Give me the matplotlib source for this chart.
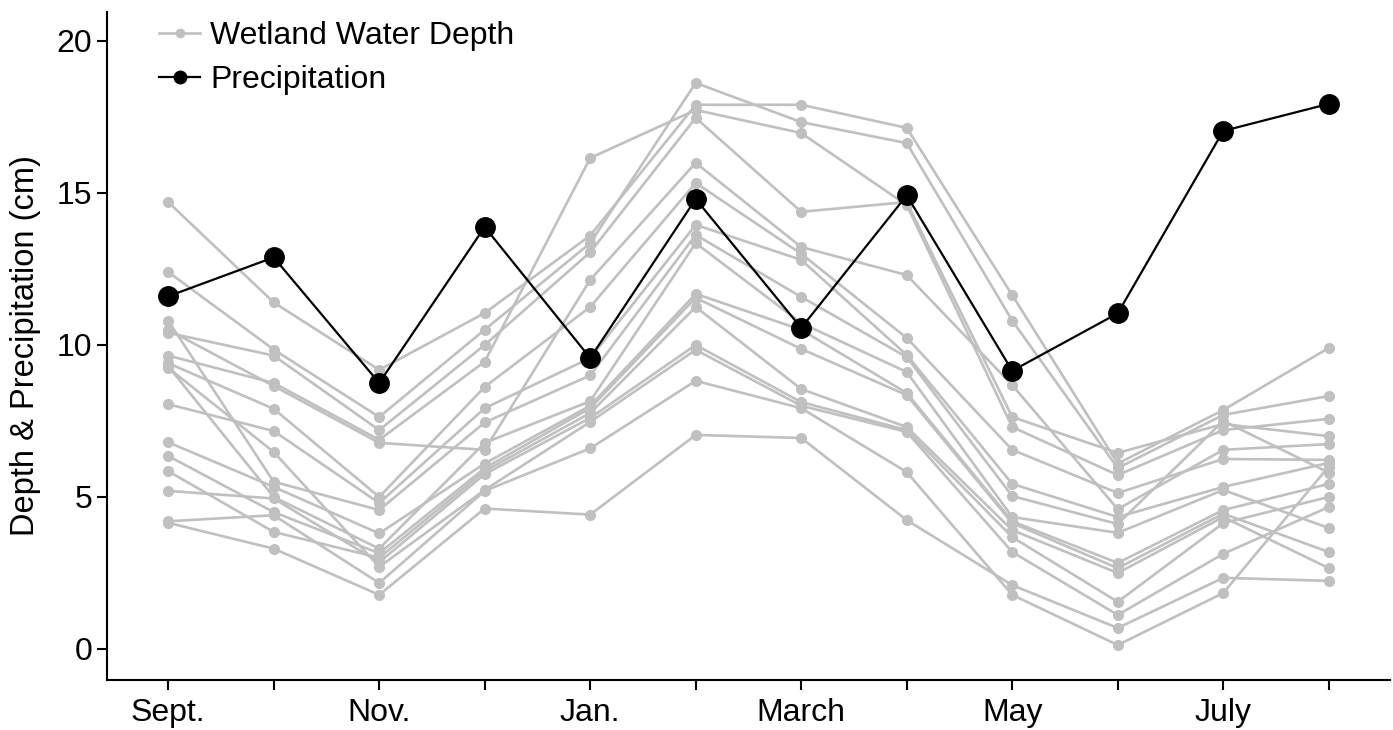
import numpy as np
import matplotlib.pyplot as plt

plt.rcParams['font.family'] = ['Liberation Sans', 'DejaVu Sans']

months = ['Sept.', 'Oct.', 'Nov.', 'Dec.', 'Jan.', 'Feb.', 'March', 'April', 'May', 'June', 'July', 'Aug.']
tick_labels = ['Sept.', '', 'Nov.', '', 'Jan.', '', 'March', '', 'May', '', 'July', '']

# monthly precipitation (cm)
precip = [11.6, 12.88, 8.75, 13.88, 9.57, 14.8, 10.56, 14.92, 9.15, 11.04, 17.04, 17.93]

# water depth of each wetland (cm), Sept. -> Aug.
w01 = [14.7, 11.4, 9.18, 11.05, 13.6, 17.9, 17.9, 17.14, 11.64, 6.1, 7.86, 9.9]
w02 = [12.4, 9.85, 7.63, 10.5, 13.35, 18.62, 17.33, 16.64, 10.8, 5.95, 7.7, 8.32]
w03 = [10.4, 9.65, 7.2, 10.0, 13.05, 17.47, 14.38, 14.7, 7.63, 6.45, 7.4, 7.0]
w04 = [9.65, 8.75, 6.88, 9.45, 16.15, 17.73, 16.97, 14.6, 7.3, 5.72, 7.2, 7.57]
w05 = [10.5, 8.65, 6.78, 6.55, 12.14, 15.99, 13.22, 12.3, 8.68, 4.6, 6.55, 6.74]
w06 = [9.4, 7.9, 5.0, 8.62, 11.25, 15.33, 13.0, 10.23, 6.55, 5.13, 6.25, 6.22]
w07 = [8.05, 7.17, 4.8, 7.92, 9.57, 13.95, 12.8, 9.67, 5.43, 4.34, 5.33, 6.12]
w08 = [10.8, 5.5, 4.57, 7.45, 9.0, 13.62, 11.58, 9.6, 5.03, 4.11, 7.5, 5.8]
w09 = [9.3, 5.0, 3.3, 6.78, 8.15, 13.35, 10.72, 9.11, 4.34, 3.82, 5.23, 3.98]
w10 = [6.8, 5.33, 3.8, 6.1, 8.0, 11.68, 10.5, 8.42, 4.2, 2.83, 4.57, 5.43]
w11 = [6.35, 4.5, 3.15, 5.95, 7.92, 11.55, 9.87, 8.35, 4.14, 2.66, 4.45, 3.19]
w12 = [5.85, 3.85, 3.0, 5.85, 7.76, 11.25, 8.55, 7.3, 3.91, 2.5, 4.34, 2.66]
w13 = [5.2, 4.95, 2.85, 5.75, 7.6, 10.0, 8.12, 7.2, 3.68, 1.55, 4.14, 5.0]
w14 = [9.25, 6.48, 2.7, 5.23, 7.47, 9.84, 8.0, 7.14, 3.19, 1.12, 3.13, 4.67]
w15 = [4.2, 4.4, 2.17, 5.2, 6.6, 8.82, 7.92, 5.82, 1.78, 0.13, 1.84, 6.0]
w16 = [4.15, 3.3, 1.78, 4.62, 4.42, 7.04, 6.94, 4.24, 2.1, 0.69, 2.34, 2.24]
wetlands = [w01, w02, w03, w04, w05, w06, w07, w08, w09, w10, w11, w12, w13, w14, w15, w16]

x = np.arange(len(months))

fig = plt.figure(figsize=(13.93, 7.3), dpi=100)
ax = fig.add_axes([0.0768, 0.0685, 0.921, 0.915])

for i, w in enumerate(wetlands):
	ax.plot(x, w, color='#c0c0c0', lw=1.9, marker='o', ms=7, mec='#c0c0c0',
		label='Wetland Water Depth' if i == 0 else None, zorder=2)
ax.plot(x, precip, color='black', lw=1.6, marker='o', ms=14, label='Precipitation', zorder=3)

ax.set_xlim(-0.58, 11.58)
ax.set_ylim(-1.02, 20.95)
ax.set_xticks(x)
ax.set_xticklabels(tick_labels)
ax.set_yticks([0, 5, 10, 15, 20])
ax.set_ylabel('Depth & Precipitation (cm)', fontsize=23.5, labelpad=11)

for s in ['top', 'right']:
	ax.spines[s].set_visible(False)
for s in ['left', 'bottom']:
	ax.spines[s].set_linewidth(1.5)
ax.tick_params(axis='both', direction='out', length=7, width=1.5, labelsize=23)
ax.tick_params(axis='x', pad=6)

leg = ax.legend(loc='upper left', bbox_to_anchor=(0.018, 1.03), frameon=False, fontsize=23,
	handlelength=1.3, handletextpad=0.3, labelspacing=0.45)
# smaller markers in the legend keys
leg.legend_handles[0].set_markersize(6)
leg.legend_handles[1].set_markersize(9)

plt.savefig('out.png', dpi=100)
